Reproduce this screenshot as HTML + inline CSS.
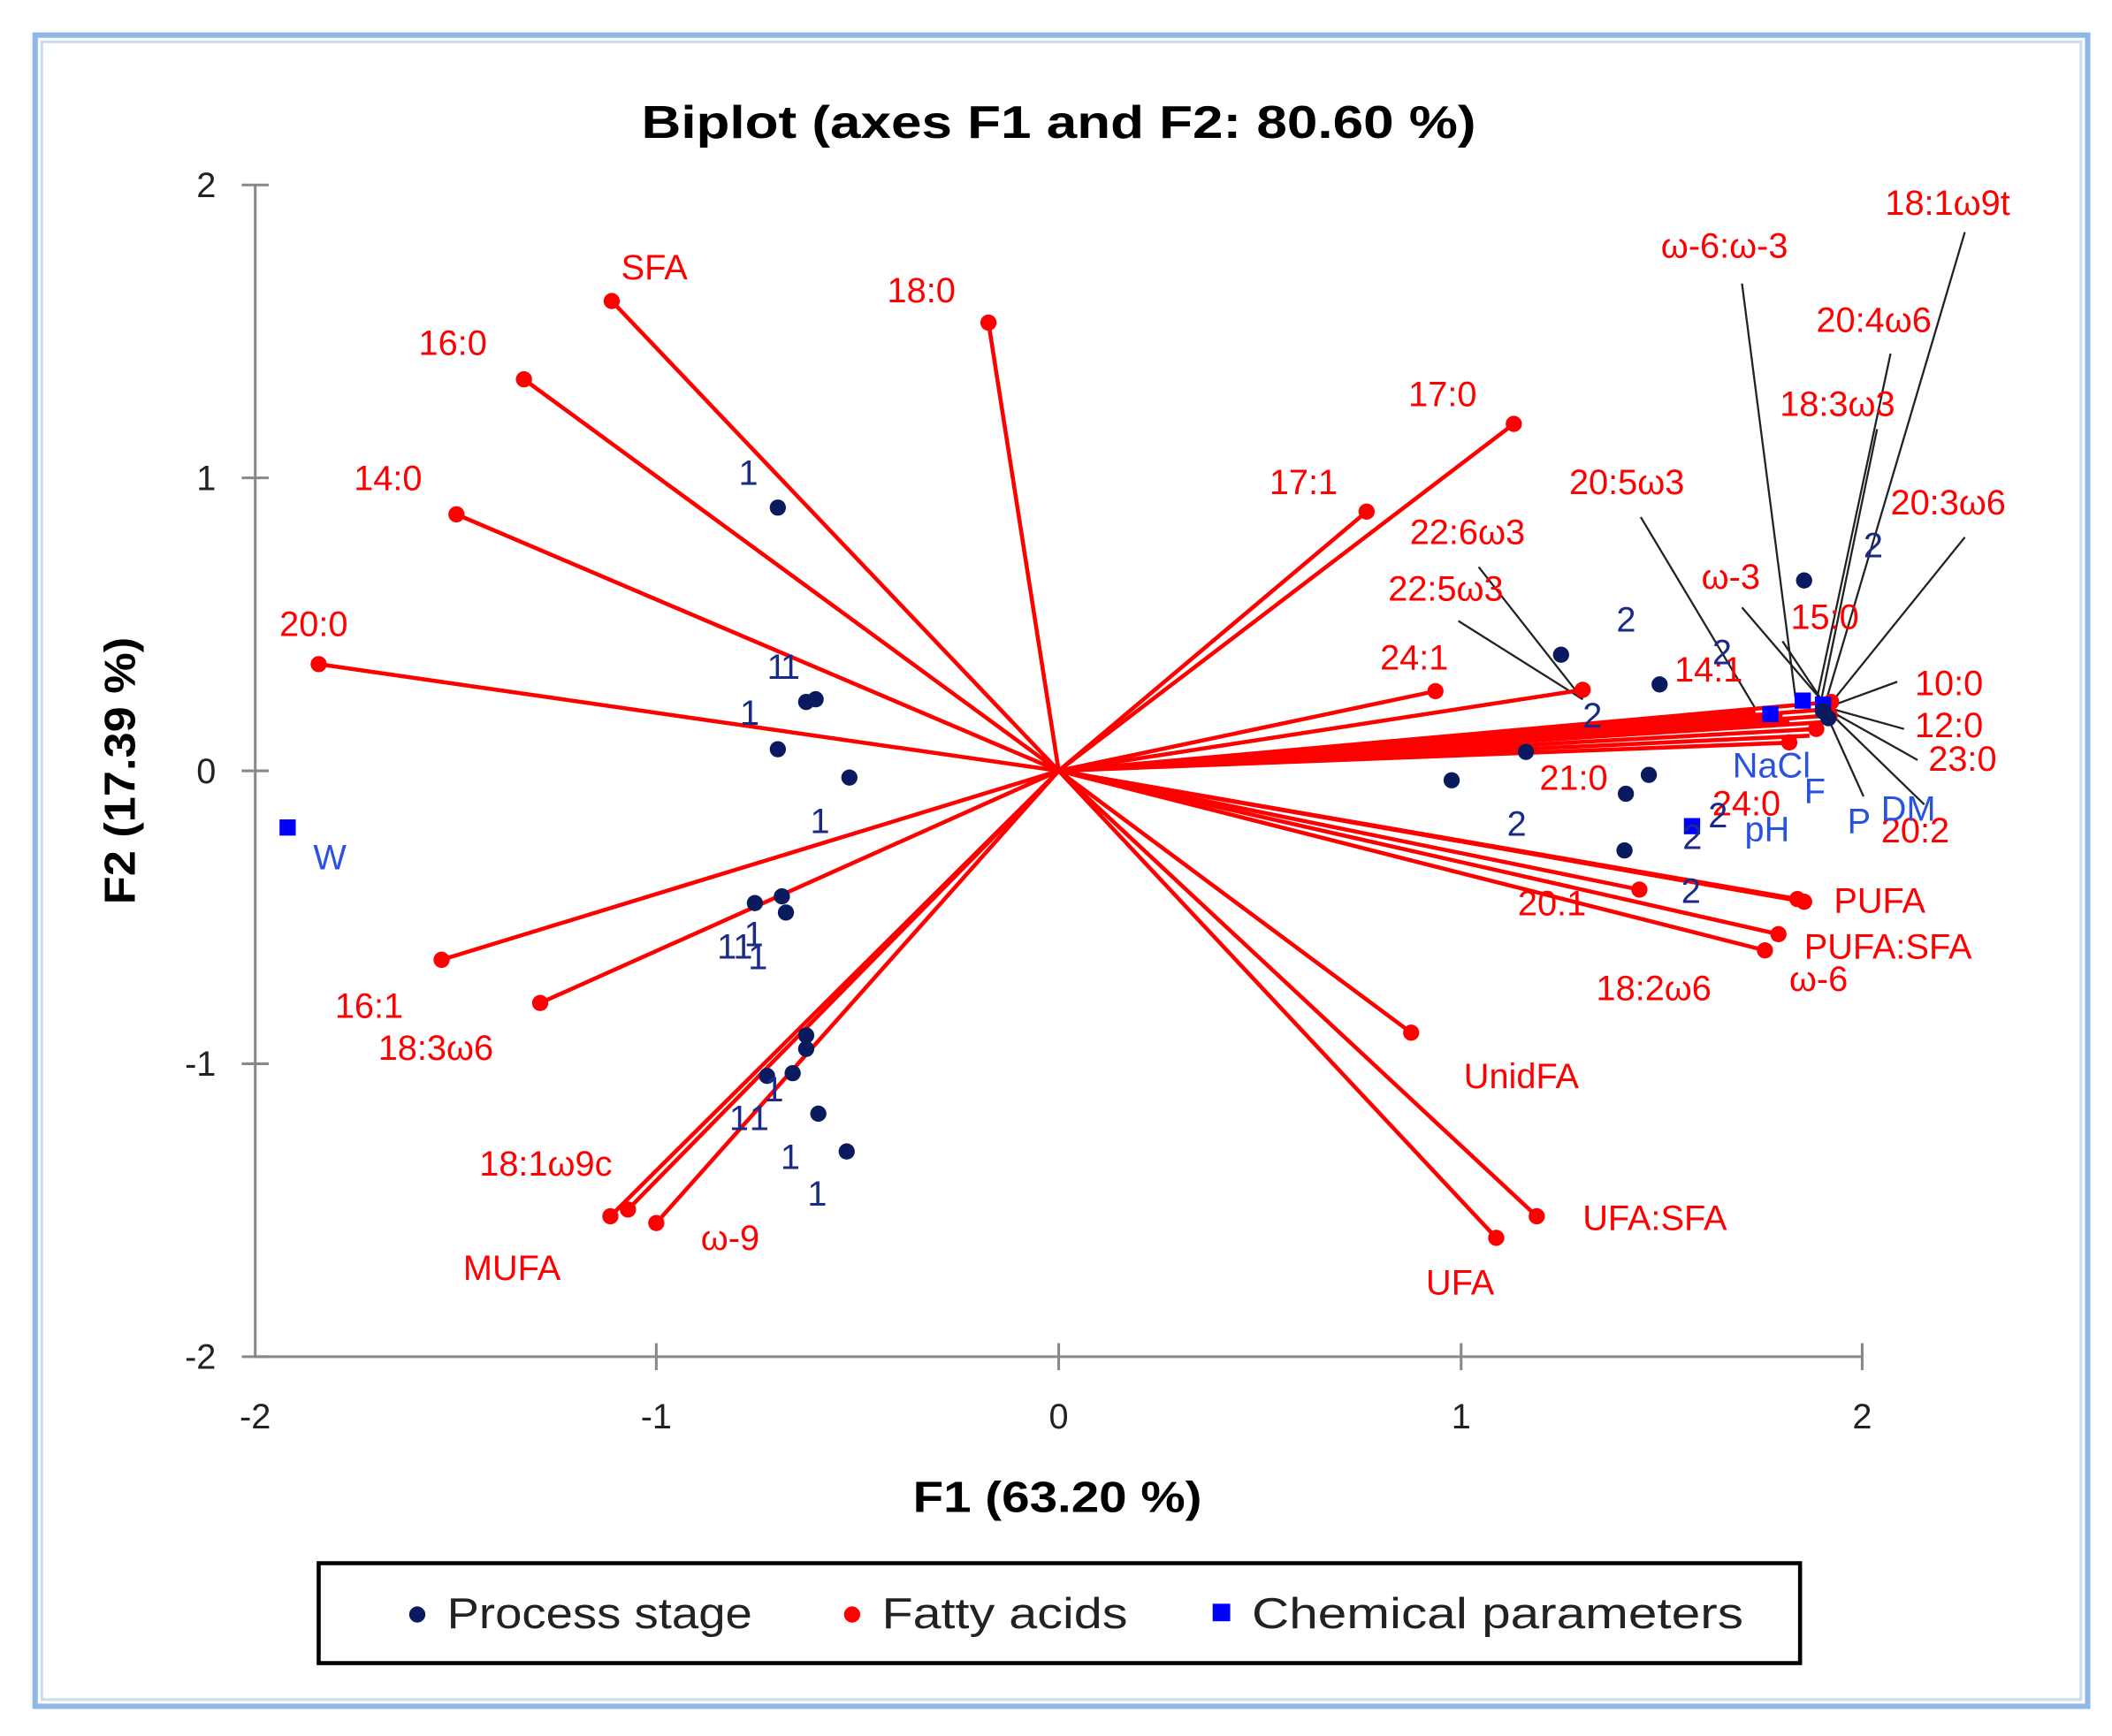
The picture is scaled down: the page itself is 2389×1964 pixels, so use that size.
<!DOCTYPE html>
<html><head><meta charset="utf-8"><style>html,body{margin:0;padding:0;background:#fff}svg{display:block}</style></head>
<body>
<svg width="2389" height="1964" viewBox="0 0 1564 1286" preserveAspectRatio="none" xmlns="http://www.w3.org/2000/svg" font-family="Liberation Sans, DejaVu Sans, sans-serif">
<rect x="0" y="0" width="1564" height="1286" fill="#fff"/>
<rect x="26" y="26" width="1520" height="1238" fill="none" stroke="#8fb8e8" stroke-width="4"/>
<rect x="31" y="31" width="1510" height="1228" fill="none" stroke="#c9dcf2" stroke-width="2"/>
<text x="475" y="102" font-size="34" font-weight="bold" textLength="618" lengthAdjust="spacingAndGlyphs">Biplot (axes F1 and F2: 80.60 %)</text>
<g stroke="#888" stroke-width="2" fill="none">
<line x1="189" y1="137" x2="189" y2="1005"/>
<line x1="189" y1="1005" x2="1379" y2="1005"/>
<line x1="784" y1="995" x2="784" y2="1015"/><line x1="486" y1="995" x2="486" y2="1015"/><line x1="1082" y1="995" x2="1082" y2="1015"/><line x1="1379" y1="995" x2="1379" y2="1015"/>
<line x1="179" y1="137" x2="199" y2="137"/><line x1="179" y1="354" x2="199" y2="354"/><line x1="179" y1="571" x2="199" y2="571"/><line x1="179" y1="788" x2="199" y2="788"/><line x1="179" y1="1005" x2="199" y2="1005"/>
</g>
<g font-size="26" fill="#222" text-anchor="end">
<text x="160" y="146">2</text><text x="160" y="363">1</text><text x="160" y="580">0</text><text x="160" y="797">-1</text><text x="160" y="1014">-2</text>
</g>
<g font-size="26" fill="#222" text-anchor="middle">
<text x="189" y="1058">-2</text><text x="486" y="1058">-1</text><text x="784" y="1058">0</text><text x="1082" y="1058">1</text><text x="1379" y="1058">2</text>
</g>
<text x="676" y="1120" font-size="32" font-weight="bold" textLength="214" lengthAdjust="spacingAndGlyphs">F1 (63.20 %)</text>
<text transform="translate(100,571) rotate(-90)" x="-99" y="0" font-size="32" font-weight="bold" textLength="198" lengthAdjust="spacingAndGlyphs">F2 (17.39 %)</text>
<g stroke="#222" stroke-width="1.5">
<line x1="1455" y1="172" x2="1352" y2="520"/>
<line x1="1290" y1="210" x2="1330" y2="520"/>
<line x1="1400" y1="262" x2="1345" y2="520"/>
<line x1="1390" y1="318" x2="1348" y2="522"/>
<line x1="1455" y1="398" x2="1355" y2="522"/>
<line x1="1215" y1="383" x2="1300" y2="525"/>
<line x1="1095" y1="420" x2="1172" y2="518"/>
<line x1="1080" y1="460" x2="1172" y2="518"/>
<line x1="1290" y1="450" x2="1350" y2="520"/>
<line x1="1320" y1="475" x2="1350" y2="520"/>
<line x1="1405" y1="505" x2="1356" y2="523"/>
<line x1="1410" y1="540" x2="1356" y2="525"/>
<line x1="1420" y1="563" x2="1356" y2="527"/>
<line x1="1425" y1="596" x2="1355" y2="528"/>
<line x1="1380" y1="590" x2="1352" y2="528"/>
</g>
<g stroke="#f00" stroke-width="3" fill="none">
<line x1="784" y1="571" x2="453" y2="223"/><line x1="784" y1="571" x2="388" y2="281"/><line x1="784" y1="571" x2="338" y2="381"/><line x1="784" y1="571" x2="236" y2="492"/>
<line x1="784" y1="571" x2="732" y2="239"/><line x1="784" y1="571" x2="1121" y2="314"/><line x1="784" y1="571" x2="1012" y2="379"/><line x1="784" y1="571" x2="1063" y2="512"/>
<line x1="784" y1="571" x2="1172" y2="511"/><line x1="784" y1="571" x2="1214" y2="659"/><line x1="784" y1="571" x2="1336" y2="668"/><line x1="784" y1="571" x2="1331" y2="666"/>
<line x1="784" y1="571" x2="1317" y2="692"/><line x1="784" y1="571" x2="1307" y2="704"/><line x1="784" y1="571" x2="1045" y2="765"/><line x1="784" y1="571" x2="1138" y2="901"/>
<line x1="784" y1="571" x2="1108" y2="917"/><line x1="784" y1="571" x2="486" y2="906"/><line x1="784" y1="571" x2="452" y2="901"/><line x1="784" y1="571" x2="465" y2="896"/>
<line x1="784" y1="571" x2="400" y2="743"/><line x1="784" y1="571" x2="327" y2="711"/>
<line x1="784" y1="571" x2="1356" y2="520"/><line x1="784" y1="571" x2="1358" y2="525"/><line x1="784" y1="571" x2="1355" y2="530"/><line x1="784" y1="571" x2="1350" y2="535"/>
<line x1="784" y1="571" x2="1345" y2="540"/><line x1="784" y1="571" x2="1340" y2="545"/><line x1="784" y1="571" x2="1330" y2="550"/><line x1="784" y1="571" x2="1320" y2="530"/>
<line x1="784" y1="571" x2="1300" y2="527"/><line x1="784" y1="571" x2="1325" y2="535"/>
</g>
<g fill="#f00">
<circle cx="453" cy="223" r="6"/><circle cx="388" cy="281" r="6"/><circle cx="338" cy="381" r="6"/><circle cx="236" cy="492" r="6"/><circle cx="732" cy="239" r="6"/><circle cx="1121" cy="314" r="6"/><circle cx="1012" cy="379" r="6"/><circle cx="1063" cy="512" r="6"/><circle cx="1172" cy="511" r="6"/><circle cx="1214" cy="659" r="6"/><circle cx="1336" cy="668" r="6"/><circle cx="1331" cy="666" r="6"/><circle cx="1317" cy="692" r="6"/><circle cx="1307" cy="704" r="6"/><circle cx="1045" cy="765" r="6"/><circle cx="1138" cy="901" r="6"/><circle cx="1108" cy="917" r="6"/><circle cx="486" cy="906" r="6"/><circle cx="452" cy="901" r="6"/><circle cx="465" cy="896" r="6"/><circle cx="400" cy="743" r="6"/><circle cx="327" cy="711" r="6"/>
<circle cx="1356" cy="520" r="6"/><circle cx="1355" cy="530" r="6"/><circle cx="1345" cy="540" r="6"/><circle cx="1325" cy="550" r="6"/>
</g>
<g fill="#f00" font-size="26">
<text x="460" y="207">SFA</text><text x="310" y="263">16:0</text><text x="262" y="363">14:0</text><text x="207" y="471">20:0</text><text x="657" y="224">18:0</text><text x="1043" y="301">17:0</text><text x="940" y="366">17:1</text><text x="1022" y="496">24:1</text>
<text x="1044" y="403">22:6ω3</text><text x="1028" y="445">22:5ω3</text><text x="1162" y="366">20:5ω3</text><text x="1240" y="505">14:1</text><text x="1140" y="585">21:0</text><text x="1268" y="604">24:0</text><text x="1124" y="678">20:1</text>
<text x="1358" y="676">PUFA</text><text x="1336" y="710">PUFA:SFA</text><text x="1325" y="734">ω-6</text><text x="1182" y="741">18:2ω6</text><text x="1084" y="806">UnidFA</text><text x="1172" y="911">UFA:SFA</text><text x="1056" y="959">UFA</text>
<text x="519" y="926">ω-9</text><text x="343" y="948">MUFA</text><text x="355" y="871">18:1ω9c</text><text x="280" y="785">18:3ω6</text><text x="248" y="754">16:1</text>
<text x="1396" y="159">18:1ω9t</text><text x="1230" y="191">ω-6:ω-3</text><text x="1345" y="246">20:4ω6</text><text x="1318" y="308">18:3ω3</text><text x="1400" y="381">20:3ω6</text><text x="1260" y="436">ω-3</text><text x="1326" y="466">15:0</text><text x="1418" y="515">10:0</text><text x="1418" y="546">12:0</text><text x="1428" y="571">23:0</text><text x="1393" y="624">20:2</text>
</g>
<g fill="#00f">
<rect x="207" y="607" width="12" height="12"/><rect x="1305" y="523" width="12" height="12"/><rect x="1329" y="513" width="12" height="12"/><rect x="1247" y="606" width="12" height="12"/><rect x="1344" y="516" width="12" height="12"/>
</g>
<g fill="#2a52e0" font-size="26">
<text x="232" y="644">W</text><text x="1283" y="576">NaCl</text><text x="1336" y="595">F</text><text x="1292" y="623">pH</text><text x="1368" y="617">P</text><text x="1393" y="608">DM</text>
</g>
<g fill="#0a1a5e">
<circle cx="576" cy="376" r="6"/><circle cx="597" cy="520" r="6"/><circle cx="604" cy="518" r="6"/><circle cx="576" cy="555" r="6"/><circle cx="629" cy="576" r="6"/><circle cx="559" cy="669" r="6"/><circle cx="579" cy="664" r="6"/><circle cx="582" cy="676" r="6"/><circle cx="597" cy="767" r="6"/><circle cx="597" cy="777" r="6"/><circle cx="587" cy="795" r="6"/><circle cx="568" cy="797" r="6"/><circle cx="606" cy="825" r="6"/><circle cx="627" cy="853" r="6"/>
<circle cx="1156" cy="485" r="6"/><circle cx="1229" cy="507" r="6"/><circle cx="1130" cy="557" r="6"/><circle cx="1075" cy="578" r="6"/><circle cx="1204" cy="588" r="6"/><circle cx="1221" cy="574" r="6"/><circle cx="1203" cy="630" r="6"/><circle cx="1336" cy="430" r="6"/><circle cx="1350" cy="527" r="6"/><circle cx="1354" cy="532" r="6"/>
</g>
<g fill="#1a2a8a" font-size="26">
<text x="547" y="359">1</text><text x="568" y="503">1</text><text x="578" y="503">1</text><text x="548" y="537">1</text><text x="600" y="617">1</text><text x="531" y="710">1</text><text x="543" y="710">1</text><text x="551" y="701">1</text><text x="554" y="718">1</text><text x="540" y="837">1</text><text x="555" y="837">1</text><text x="566" y="816">1</text><text x="578" y="866">1</text><text x="598" y="893">1</text>
<text x="1197" y="468">2</text><text x="1268" y="492">2</text><text x="1172" y="539">2</text><text x="1116" y="619">2</text><text x="1246" y="629">2</text><text x="1265" y="613">2</text><text x="1245" y="669">2</text><text x="1380" y="413">2</text>
</g>
<rect x="236" y="1158" width="1097" height="74" fill="#fff" stroke="#000" stroke-width="3"/>
<circle cx="309" cy="1196" r="6" fill="#0a1a5e"/>
<text x="331" y="1206" font-size="32" fill="#222" textLength="226" lengthAdjust="spacingAndGlyphs">Process stage</text>
<circle cx="631" cy="1196" r="6" fill="#f00"/>
<text x="653" y="1206" font-size="32" fill="#222" textLength="182" lengthAdjust="spacingAndGlyphs">Fatty acids</text>
<rect x="898" y="1188" width="13" height="13" fill="#00f"/>
<text x="927" y="1206" font-size="32" fill="#222" textLength="364" lengthAdjust="spacingAndGlyphs">Chemical parameters</text>
</svg>
</body></html>
